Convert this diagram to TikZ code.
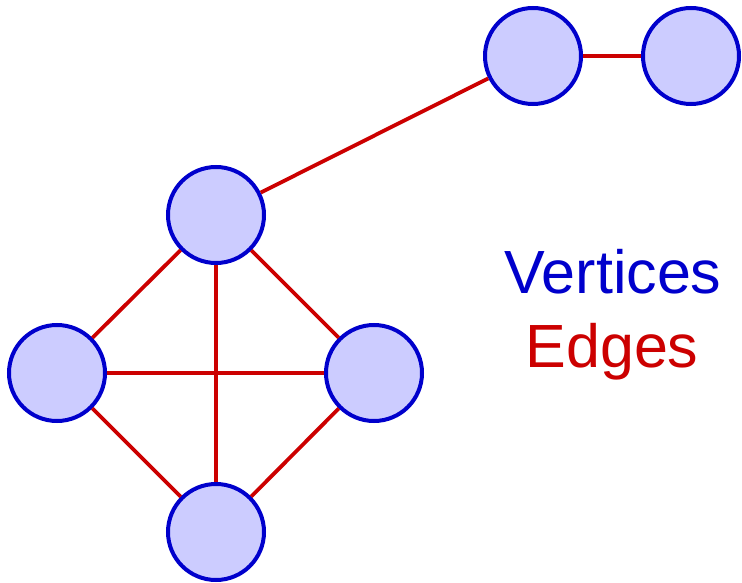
\documentclass[tikz,border=0pt]{standalone}
\usepackage{fontspec}
\setmainfont{Liberation Sans}
\definecolor{vblue}{HTML}{0000CC}
\definecolor{vfill}{HTML}{CCCCFF}
\definecolor{ered}{HTML}{CC0000}
\begin{document}
\begin{tikzpicture}[x=1pt,y=-1pt,
  vertex/.style={circle,draw=vblue,fill=vfill,line width=4pt,minimum size=96pt,inner sep=0pt},
  edge/.style={draw=ered,line width=3.8pt},
  label/.style={anchor=base,inner sep=0pt,font=\fontsize{61}{72}\selectfont}]
\useasboundingbox (0,0) rectangle (742,583);
\node[vertex] (A) at (533,56) {};
\node[vertex] (B) at (691,56) {};
\node[vertex] (C) at (216,215) {};
\node[vertex] (D) at (57,373) {};
\node[vertex] (E) at (374,373) {};
\node[vertex] (F) at (216,532) {};
\draw[edge] (A) -- (B);
\draw[edge] (A) -- (C);
\draw[edge] (C) -- (D);
\draw[edge] (C) -- (E);
\draw[edge] (C) -- (F);
\draw[edge] (D) -- (E);
\draw[edge] (D) -- (F);
\draw[edge] (E) -- (F);
\node[label,text=vblue] (vt) at (613,293) {Vertices};
\node[label,text=ered] (et) at (612,367) {Edges};
\end{tikzpicture}
\end{document}
